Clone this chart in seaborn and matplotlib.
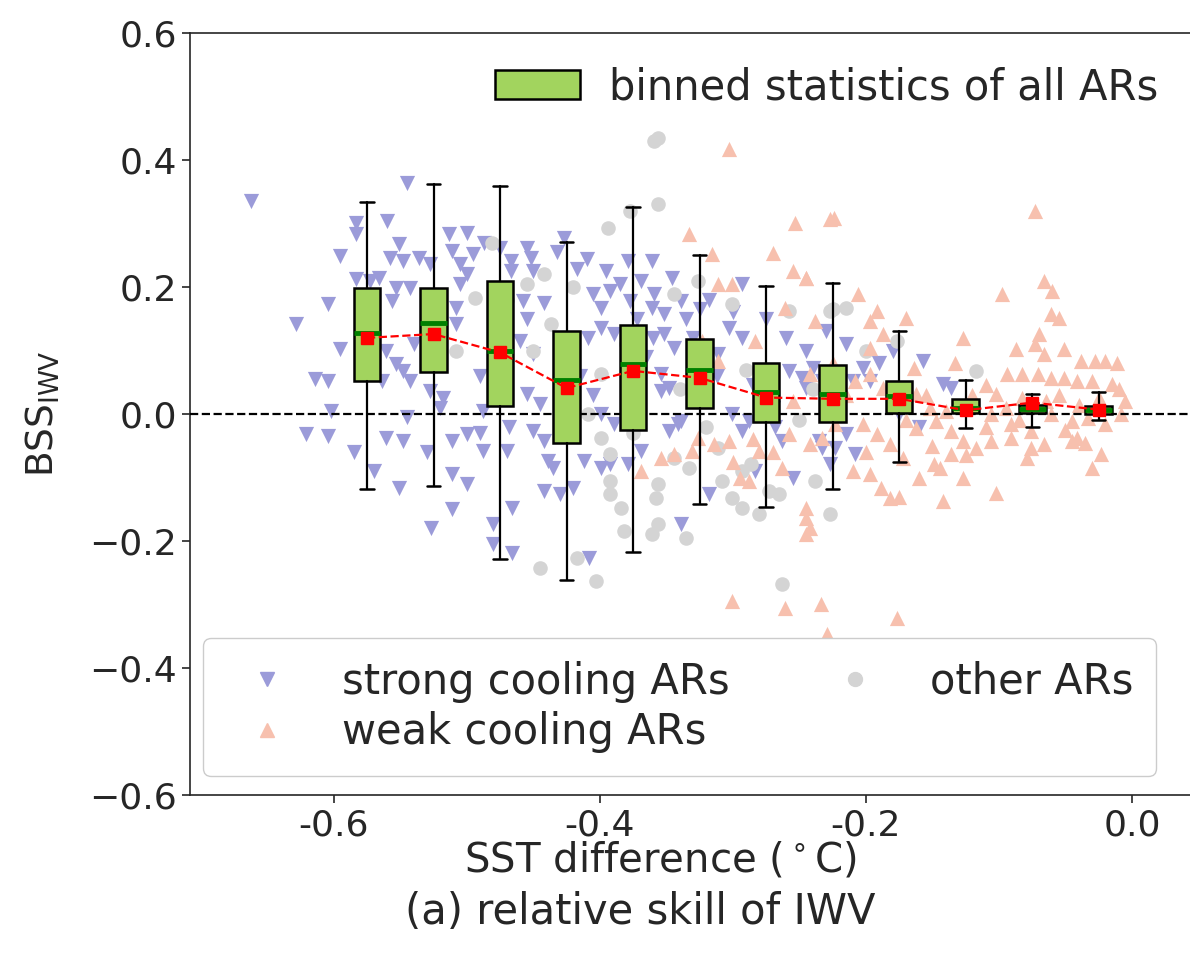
import numpy as np
import pandas as pd
import matplotlib
matplotlib.use('Agg')
import matplotlib.pyplot as plt
from matplotlib.patches import Patch
from matplotlib.lines import Line2D
import seaborn as sns

# scatter points (SST difference, BSS_IWV)
strong_x = [-0.662, -0.545, -0.560, -0.583, -0.583, -0.595, -0.551, -0.558, -0.548, -0.536,
            -0.528, -0.513, -0.500, -0.511, -0.495, -0.505, -0.500, -0.505, -0.467, -0.467,
            -0.583, -0.573, -0.566, -0.553, -0.543, -0.556, -0.604, -0.628, -0.595, -0.614,
            -0.604, -0.564, -0.548, -0.543, -0.553, -0.561, -0.508, -0.508, -0.528, -0.518,
            -0.520, -0.602, -0.621, -0.604, -0.561, -0.548, -0.511, -0.500, -0.488, -0.470,
            -0.488, -0.570, -0.551, -0.511, -0.500, -0.511, -0.527, -0.480, -0.480, -0.466,
            -0.466, -0.452, -0.450, -0.442, -0.458, -0.427, -0.417, -0.405, -0.392, -0.399,
            -0.379, -0.361, -0.369, -0.359, -0.377, -0.361, -0.346, -0.339, -0.352, -0.399,
            -0.389, -0.409, -0.422, -0.460, -0.450, -0.455, -0.445, -0.352, -0.344, -0.303,
            -0.293, -0.311, -0.293, -0.258, -0.248, -0.354, -0.348, -0.399, -0.389, -0.450,
            -0.442, -0.348, -0.339, -0.301, -0.288, -0.439, -0.435, -0.442, -0.430, -0.420,
            -0.408, -0.412, -0.399, -0.392, -0.379, -0.369, -0.354, -0.341, -0.339, -0.318,
            -0.293, -0.283, -0.255, -0.233, -0.227, -0.263, -0.230, -0.240, -0.245, -0.233,
            -0.225, -0.210, -0.202, -0.197, -0.180, -0.157, -0.142, -0.136, -0.235, -0.208,
            -0.215, -0.223, -0.487, -0.475, -0.455, -0.432, -0.410, -0.395, -0.385, -0.372,
            -0.335, -0.325, -0.318, -0.330, -0.312, -0.320, -0.285, -0.270, -0.268, -0.415,
            -0.405, -0.428, -0.468, -0.490, -0.530, -0.545, -0.585, -0.540, -0.490, -0.478,
            -0.455, -0.365, -0.360, -0.330, -0.300, -0.275, -0.260, -0.245, -0.215, -0.190,
            -0.175, -0.160]
strong_y = [0.335, 0.364, 0.304, 0.301, 0.283, 0.249, 0.268, 0.246, 0.241, 0.246,
            0.236, 0.283, 0.285, 0.257, 0.252, 0.236, 0.220, 0.205, 0.241, 0.225,
            0.213, 0.209, 0.214, 0.198, 0.198, 0.178, 0.173, 0.142, 0.102, 0.055,
            0.052, 0.052, 0.068, 0.052, 0.079, 0.099, 0.167, 0.142, 0.036, 0.025,
            0.009, 0.005, -0.031, -0.035, -0.038, -0.043, -0.043, -0.031, -0.058, -0.058,
            0.005, -0.090, -0.116, -0.095, -0.110, -0.150, -0.180, -0.173, -0.205, -0.219,
            -0.148, 0.246, 0.225, 0.175, 0.178, 0.277, 0.228, 0.189, 0.194, 0.167,
            0.241, 0.241, 0.209, 0.189, 0.178, 0.167, 0.214, 0.178, 0.157, 0.135,
            0.126, 0.120, 0.104, 0.115, 0.094, 0.031, 0.016, 0.126, 0.104, 0.135,
            0.120, 0.094, 0.205, 0.068, 0.057, 0.063, 0.041, 0.000, -0.016, -0.027,
            -0.043, -0.027, -0.011, 0.000, -0.011, -0.074, -0.085, -0.121, -0.126, -0.116,
            -0.227, -0.074, -0.085, -0.079, -0.079, -0.058, 0.036, -0.016, -0.173, -0.126,
            -0.027, -0.090, -0.101, -0.054, -0.079, -0.043, 0.131, 0.072, 0.041, 0.052,
            0.063, 0.052, 0.072, 0.052, 0.099, 0.083, 0.047, 0.041, -0.043, -0.063,
            -0.031, -0.054, 0.270, 0.262, 0.262, 0.255, 0.245, 0.225, 0.205, 0.150,
            0.150, 0.165, 0.180, 0.120, 0.060, 0.030, 0.045, 0.010, -0.020, 0.060,
            0.030, -0.010, -0.020, -0.030, -0.060, -0.005, -0.060, 0.110, 0.060, 0.130,
            0.150, 0.090, 0.120, 0.080, 0.160, 0.150, 0.120, 0.100, 0.110, 0.080,
            0.000, -0.020]

weak_x = [-0.303, -0.333, -0.316, -0.270, -0.253, -0.227, -0.255, -0.245, -0.311, -0.301,
          -0.261, -0.238, -0.283, -0.311, -0.224, -0.073, -0.245, -0.206, -0.098, -0.066,
          -0.060, -0.061, -0.055, -0.192, -0.197, -0.170, -0.127, -0.070, -0.073, -0.087,
          -0.133, -0.051, -0.038, -0.028, -0.020, -0.011, -0.066, -0.094, -0.083, -0.071,
          -0.061, -0.051, -0.041, -0.030, -0.015, -0.102, -0.083, -0.106, -0.091, -0.076,
          -0.061, -0.045, -0.033, -0.020, -0.008, -0.147, -0.136, -0.127, -0.117, -0.106,
          -0.091, -0.076, -0.066, -0.045, -0.041, -0.023, -0.030, -0.079, -0.127, -0.144,
          -0.136, -0.102, -0.142, -0.164, -0.162, -0.152, -0.162, -0.197, -0.187, -0.208,
          -0.197, -0.187, -0.202, -0.192, -0.182, -0.172, -0.197, -0.189, -0.182, -0.149,
          -0.242, -0.369, -0.354, -0.344, -0.331, -0.326, -0.314, -0.303, -0.295, -0.288,
          -0.280, -0.258, -0.242, -0.233, -0.263, -0.245, -0.245, -0.242, -0.245, -0.301,
          -0.261, -0.234, -0.229, -0.223, -0.177, -0.323, -0.155, -0.140, -0.120, -0.110,
          -0.095, -0.085, -0.065, -0.055, -0.040, -0.025, -0.010, -0.005, -0.050, -0.035,
          -0.110, -0.125, -0.150, -0.170, -0.175, -0.215, -0.225, -0.255, -0.270, -0.285,
          -0.200, -0.210, -0.160, -0.175, -0.300]
weak_y = [0.417, 0.283, 0.252, 0.254, 0.301, 0.307, 0.225, 0.214, 0.205, 0.205,
          0.167, 0.146, 0.115, 0.083, 0.309, 0.320, 0.214, 0.189, 0.189, 0.209,
          0.194, 0.157, 0.151, 0.162, 0.146, 0.151, 0.120, 0.126, 0.110, 0.102,
          0.080, 0.102, 0.083, 0.083, 0.083, 0.080, 0.094, 0.063, 0.063, 0.063,
          0.057, 0.057, 0.052, 0.052, 0.047, 0.031, 0.025, 0.000, -0.016, -0.027,
          0.000, -0.011, -0.006, -0.016, 0.000, -0.011, -0.027, -0.043, -0.054, -0.043,
          -0.038, -0.054, -0.047, -0.043, -0.038, -0.063, -0.085, -0.069, -0.101, -0.085,
          -0.063, -0.124, -0.137, 0.072, 0.031, 0.009, -0.022, 0.104, 0.126, 0.052,
          0.063, 0.041, -0.016, -0.031, -0.047, -0.069, -0.094, -0.116, -0.132, -0.079,
          0.063, -0.090, -0.069, -0.063, -0.058, -0.038, -0.047, -0.043, -0.101, -0.106,
          -0.058, -0.031, -0.047, -0.038, -0.085, -0.148, -0.164, -0.180, -0.189, -0.294,
          -0.306, -0.299, -0.346, -0.016, -0.321, 0.115, 0.030, 0.005, 0.030, 0.045,
          0.010, -0.010, 0.020, 0.030, 0.015, 0.025, 0.040, 0.020, -0.025, -0.045,
          -0.020, -0.065, -0.050, -0.010, 0.040, 0.030, 0.080, 0.020, -0.060, -0.040,
          -0.060, -0.090, -0.100, -0.130, -0.075]

other_x = [-0.481, -0.494, -0.508, -0.359, -0.356, -0.356, -0.377, -0.394, -0.442, -0.455,
           -0.326, -0.301, -0.450, -0.399, -0.437, -0.344, -0.227, -0.258, -0.399, -0.392,
           -0.392, -0.392, -0.384, -0.382, -0.361, -0.356, -0.335, -0.358, -0.356, -0.445,
           -0.417, -0.403, -0.344, -0.333, -0.311, -0.308, -0.301, -0.293, -0.280, -0.293,
           -0.286, -0.273, -0.265, -0.238, -0.227, -0.263, -0.424, -0.409, -0.225, -0.215,
           -0.177, -0.117, -0.420, -0.380, -0.340, -0.320, -0.290, -0.250, -0.240, -0.200,
           -0.470, -0.375]
other_y = [0.269, 0.183, 0.099, 0.430, 0.435, 0.331, 0.320, 0.293, 0.220, 0.205,
           0.209, 0.173, 0.099, 0.063, 0.142, 0.189, 0.162, 0.162, -0.038, -0.063,
           -0.106, -0.126, -0.148, -0.184, -0.189, -0.173, -0.195, -0.132, -0.110, -0.243,
           -0.227, -0.263, -0.069, -0.085, -0.054, -0.106, -0.132, -0.148, -0.157, -0.090,
           -0.079, -0.121, -0.126, -0.106, -0.157, -0.268, 0.005, 0.000, 0.165, 0.167,
           0.115, 0.068, 0.200, 0.110, 0.040, -0.020, 0.070, -0.010, 0.040, 0.100,
           0.180, -0.030]

# binned statistics of all ARs
bin_centers = [-0.575, -0.525, -0.475, -0.425, -0.375, -0.325,
               -0.275, -0.225, -0.175, -0.125, -0.075, -0.025]
whis_lo = [-0.118, -0.113, -0.228, -0.262, -0.218, -0.142, -0.146, -0.118, -0.076, -0.022, -0.020, -0.010]
q1 = [0.052, 0.066, 0.013, -0.045, -0.025, 0.010, -0.013, -0.012, 0.001, 0.001, 0.002, 0.000]
median = [0.128, 0.143, 0.099, 0.053, 0.079, 0.069, 0.035, 0.031, 0.028, 0.010, 0.008, 0.006]
mean = [0.120, 0.126, 0.097, 0.041, 0.068, 0.057, 0.026, 0.024, 0.024, 0.006, 0.018, 0.007]
q3 = [0.199, 0.198, 0.209, 0.131, 0.140, 0.118, 0.080, 0.077, 0.052, 0.023, 0.014, 0.013]
whis_hi = [0.334, 0.362, 0.359, 0.271, 0.326, 0.250, 0.202, 0.207, 0.131, 0.053, 0.031, 0.035]

c_strong = '#9b9bd9'
c_weak = '#f7c0ae'
c_other = '#d4d4d4'
c_box = '#a2d45e'

df = pd.concat([
    pd.DataFrame({'sst': strong_x, 'bss': strong_y, 'group': 'strong cooling ARs'}),
    pd.DataFrame({'sst': weak_x, 'bss': weak_y, 'group': 'weak cooling ARs'}),
    pd.DataFrame({'sst': other_x, 'bss': other_y, 'group': 'other ARs'}),
])

sns.set_style('ticks')
plt.rcParams['font.family'] = ['DejaVu Sans']
fs = 26
fs_leg = 30

fig = plt.figure(figsize=(11.9, 9.74), dpi=100)
ax = fig.add_axes([0.1597, 0.1838, 0.8403, 0.7822])

sns.scatterplot(data=df[df.group == 'strong cooling ARs'], x='sst', y='bss', marker='v',
                color=c_strong, s=120, linewidth=0, ax=ax, zorder=2)
sns.scatterplot(data=df[df.group == 'other ARs'], x='sst', y='bss', marker='o',
                color=c_other, s=110, linewidth=0, ax=ax, zorder=2)
sns.scatterplot(data=df[df.group == 'weak cooling ARs'], x='sst', y='bss', marker='^',
                color=c_weak, s=120, linewidth=0, ax=ax, zorder=2)

ax.axhline(0, color='black', ls='--', lw=1.6, zorder=3)

stats = []
for i in range(len(bin_centers)):
    stats.append({'whislo': whis_lo[i], 'q1': q1[i], 'med': median[i], 'mean': mean[i],
                  'q3': q3[i], 'whishi': whis_hi[i], 'fliers': []})
ax.bxp(stats, positions=bin_centers, widths=0.02, patch_artist=True, showmeans=True,
       manage_ticks=False, zorder=4,
       boxprops=dict(facecolor=c_box, edgecolor='black', linewidth=1.8),
       medianprops=dict(color='green', linewidth=3.5),
       whiskerprops=dict(color='black', linewidth=1.6),
       capprops=dict(color='black', linewidth=1.8),
       meanprops=dict(marker='s', markerfacecolor='red', markeredgecolor='red', markersize=8))
ax.plot(bin_centers, mean, color='red', ls='--', lw=1.6, zorder=5)

ax.set_xlim(-0.708, 0.0436)
ax.set_ylim(-0.6, 0.6)
ax.set_xticks([-0.6, -0.4, -0.2, 0.0])
ax.set_xticklabels(['-0.6', '-0.4', '-0.2', '0.0'])
ax.set_yticks([-0.6, -0.4, -0.2, 0.0, 0.2, 0.4, 0.6])
ax.tick_params(labelsize=fs, length=6, width=1.2)
ax.spines['right'].set_visible(False)
for sp in ['left', 'top', 'bottom']:
    ax.spines[sp].set_linewidth(1.2)

ax.set_ylabel(r'BSS$_{\rm IWV}$', fontsize=fs + 1)
ax.yaxis.set_label_coords(-0.128, 0.5)
ax.set_xlabel(r'SST difference ($^\circ$C)', fontsize=fs + 3)
ax.xaxis.set_label_coords(0.47, -0.06)
fig.text(0.538, 0.064, '(a) relative skill of IWV', fontsize=fs + 4, ha='center', va='center')

box_handle = [Patch(facecolor=c_box, edgecolor='black', linewidth=1.8)]
leg1 = ax.legend(box_handle, ['binned statistics of all ARs'], loc='upper right',
                 bbox_to_anchor=(1.006, 1.006), frameon=False, fontsize=fs_leg,
                 handlelength=2.05, handleheight=0.7, handletextpad=0.7)
ax.add_artist(leg1)

pts = [Line2D([], [], ls='', marker='v', color=c_strong, markersize=10),
       Line2D([], [], ls='', marker='^', color=c_weak, markersize=10),
       Line2D([], [], ls='', marker='o', color=c_other, markersize=10)]
ax.legend(pts, ['strong cooling ARs', 'weak cooling ARs', 'other ARs'], loc='lower left',
          bbox_to_anchor=(-0.006, 0.0), ncol=2, fontsize=fs_leg, borderaxespad=0.45,
          borderpad=0.55, columnspacing=2.0, handletextpad=0.8, labelspacing=0.2,
          framealpha=1.0, edgecolor='#cccccc')

fig.savefig('out.png', dpi=100)
